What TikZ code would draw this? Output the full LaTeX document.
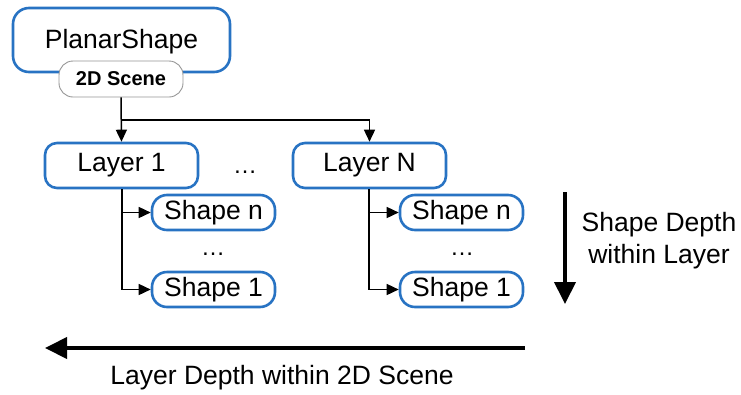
\documentclass[tikz,border=0pt]{standalone}
\usepackage{fontspec}
\setmainfont{Liberation Sans}
\usetikzlibrary{arrows.meta}
\definecolor{boxblue}{RGB}{40,115,195}
\definecolor{pillgray}{RGB}{150,150,150}
\begin{document}
\begin{tikzpicture}[x=1pt,y=-1pt,
  every node/.style={font=\fontsize{26.5}{32}\selectfont, inner sep=0pt},
  bluebox/.style={draw=boxblue, line width=2.6pt, fill=white, align=center},
  pill/.style={draw=pillgray, line width=0.9pt, fill=white, rounded corners=14pt,
    minimum width=124pt, minimum height=36pt, font=\fontsize{20}{24}\selectfont\bfseries},
  conn/.style={draw=black, line width=1.5pt, -{Triangle[length=12pt,width=11pt]}},
  bigarrow/.style={draw=black, line width=4pt, -{Triangle[length=22pt,width=21pt]}},
  dots/.style={font=\fontsize{24}{28}\selectfont}
]
\useasboundingbox (0,0) rectangle (741,394);

% root of the tree and its tag
\node[bluebox, rounded corners=16pt, minimum width=217pt, minimum height=64pt,
      text depth=0pt] (planar) at (121.5,40) {\raisebox{2pt}{PlanarShape}};
\node[pill] (scene) at (121,79) {2D Scene};

% layers
\node[bluebox, rounded corners=12pt, minimum width=153pt, minimum height=45pt] (layer1) at (121.5,165.5) {Layer 1};
\node[bluebox, rounded corners=12pt, minimum width=153pt, minimum height=45pt] (layerN) at (369.5,165.5) {Layer N};
\node[dots] (ldots) at (245,172) {\dots};

% shapes of each layer
\tikzset{shapebox/.style={bluebox, rounded corners=15pt, minimum width=123pt, minimum height=35pt}}
\node[shapebox] (s1n) at (213.5,212.5) {Shape n};
\node[shapebox] (s11) at (213.5,289.5) {Shape 1};
\node[dots] (s1dots) at (213,254) {\dots};
\node[shapebox] (sNn) at (461.5,212.5) {Shape n};
\node[shapebox] (sN1) at (461.5,289.5) {Shape 1};
\node[dots] (sNdots) at (462,254) {\dots};

% connectors from the scene to the layers
\coordinate (fork) at (scene.south |- 0,120);
\draw[conn] (scene.south) -- (layer1.north);
\draw[conn] (fork) -| (layerN.north);

% connectors from each layer to its shapes
\coordinate (l1trunk) at (122,0);
\coordinate (lNtrunk) at (369,0);
\draw[line width=1.5pt] (layer1.south -| l1trunk) -- (s11.west -| l1trunk);
\draw[conn] (s1n.west -| l1trunk) -- (s1n.west);
\draw[conn] (s11.west -| l1trunk) -- (s11.west);
\draw[line width=1.5pt] (layerN.south -| lNtrunk) -- (sN1.west -| lNtrunk);
\draw[conn] (sNn.west -| lNtrunk) -- (sNn.west);
\draw[conn] (sN1.west -| lNtrunk) -- (sN1.west);

% depth axes
\coordinate (vtop) at (565,192);
\coordinate (vbot) at (565,304);
\draw[bigarrow] (vtop) -- (vbot);
\node[align=center] (vlabel) at (659,241) {Shape Depth\\within Layer};

\coordinate (hright) at (525,348);
\coordinate (hleft) at (45,348);
\draw[bigarrow] (hright) -- (hleft);
\node (hlabel) at (282,378) {Layer Depth within 2D Scene};
\end{tikzpicture}
\end{document}
